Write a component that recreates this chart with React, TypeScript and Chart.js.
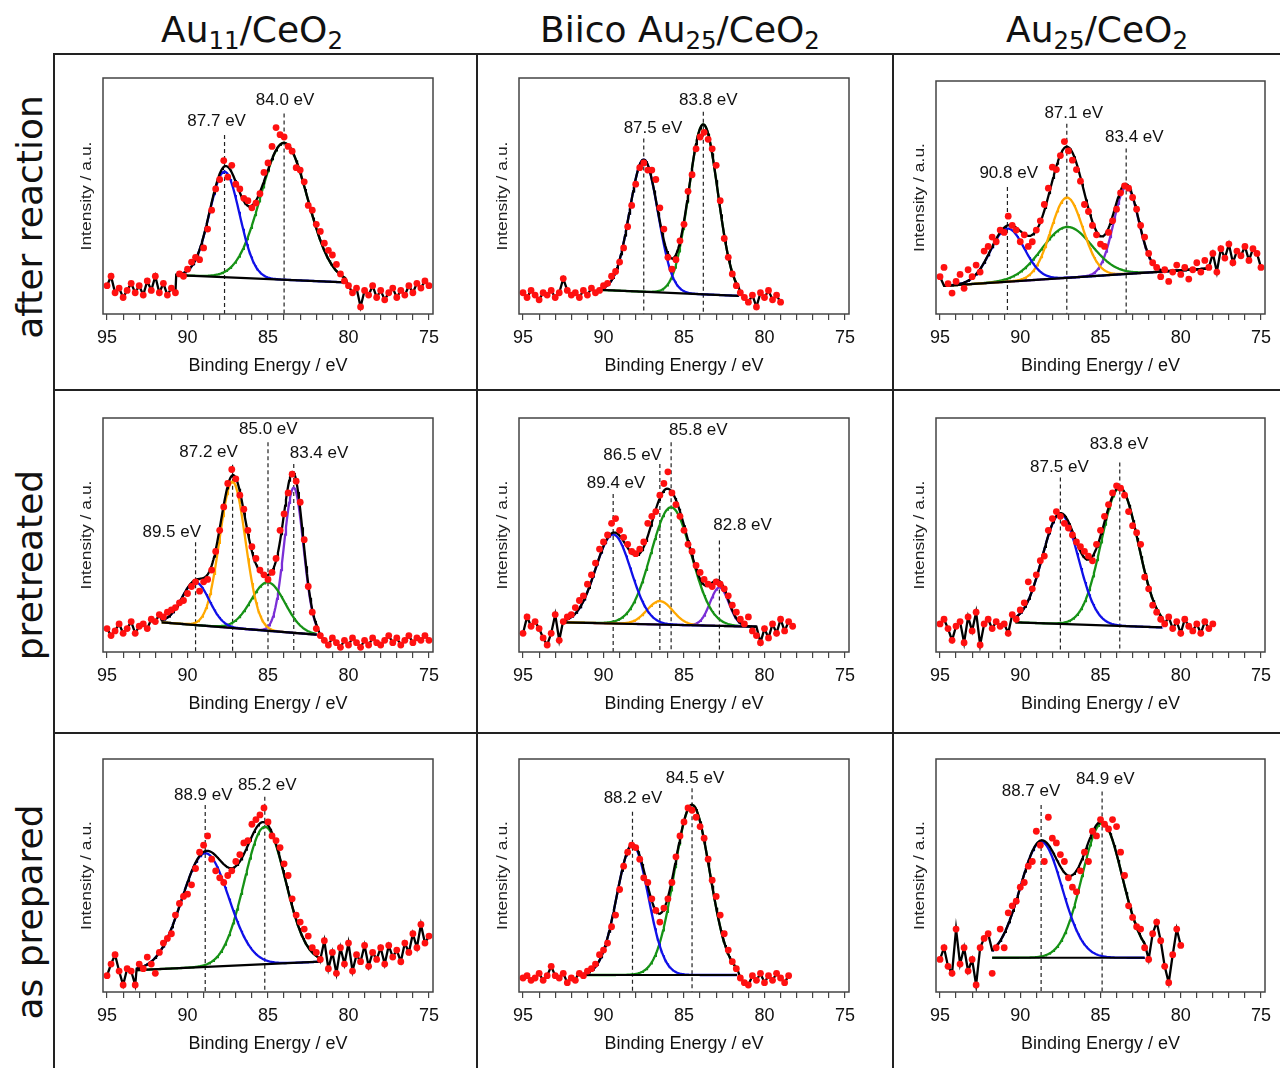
import React, { useEffect, useRef } from 'react';
import { Chart, registerables } from 'chart.js';

Chart.register(...registerables);

const PLOT_FONT = "'Liberation Sans', Arial, Helvetica, sans-serif";
const HEAD_FONT = "'DejaVu Sans', Verdana, sans-serif";

const BLUE = '#1010e8';
const GREEN = '#169216';
const ORANGE = '#ffa800';
const PURPLE = '#7a2fd6';
const RED = '#ff1010';

const X_MIN = 74.75;
const X_MAX = 95.25;
const X_TICK_LABELS = [95, 90, 85, 80, 75];
const E_START = 95;
const E_STEP = 0.25;

const COLUMN_TITLES = [
  ['Au', '11', '/CeO', '2'],
  ['Biico Au', '25', '/CeO', '2'],
  ['Au', '25', '/CeO', '2'],
];
const ROW_TITLES = ['after reaction', 'pretreated', 'as prepared'];

// ---------- Au11/CeO2, after reaction ----------
const P1_Y = [12, 16, 9, 11, 7, 10, 13, 9, 12, 8, 14, 10, 16, 9, 13, 8, 11, 9,
  17, 16, 19, 22, 24, 23, 28, 36, 44, 53, 57, 65, 58, 63, 55, 53, 49, 48, 45, 47, 51, 60, 64, 71, 79, 76, 75, 71, 69, 62, 61, 56, 46, 44, 38, 35, 30, 27, 25, 21, 17, 14,
  12, 9, 11, 3, 10, 8, 12, 7, 10, 6, 9, 11, 7, 10, 8, 12, 9, 13, 11, 14, 12];
const P1_BASE = [90.7, 16.5, 80.2, 13.4];
const P1_CENTERS = [87.7, 84.0];
const P1_HEIGHTS = [44.7, 58];
const P1_SIGMAS = [0.93, 1.45];
const P1_MARKS = [87.7, 84.0];

// ---------- Biico Au25/CeO2, after reaction ----------
const P2_Y = [9, 7, 10, 8, 6, 9, 8, 10, 7, 9, 15, 10, 8, 9, 7, 10, 8, 11, 9, 10,
  12, 13, 16, 18, 22, 28, 37, 46, 55, 62, 64, 61, 61, 57, 45, 36, 24, 19, 23, 31, 38, 52, 59, 70, 75, 77, 74, 70, 63, 48, 32, 24, 17, 12, 9,
  7, 5, 8, 3, 9, 7, 10, 6, 8, 5];
const P2_BASE = [90.16, 10.2, 81.6, 7.7];
const P2_CENTERS = [87.5, 83.8];
const P2_HEIGHTS = [56, 72];
const P2_SIGMAS = [0.88, 0.9];
const P2_MARKS = [87.5, 83.8];

// ---------- Au25/CeO2, after reaction ----------
const P3_Y = [16, 20, 13, 9, 14, 17, 11, 19, 16, 21, 18, 27, 29, 33, 31, 36, 35, 42, 38, 36,
  31, 34, 29, 31, 36, 40, 47, 54, 63, 62, 68, 74, 70, 66, 62, 57, 47, 44, 38, 34,
  30, 29, 35, 40, 45, 52, 55, 54, 50, 45, 38, 33, 26, 22, 20, 16, 19, 14, 18, 21,
  17, 20, 15, 19, 22, 18, 23, 20, 26, 18, 28, 24, 30, 22, 27, 25, 29, 23, 28, 26, 20];
const P3_BASE = [94.75, 12.1, 78.3, 19.5];
const P3_CENTERS = [90.8, 87.1, 87.1, 83.4];
const P3_HEIGHTS = [22.8, 34.4, 21.8, 37.3];
const P3_SIGMAS = [1.05, 1.0, 1.55, 0.775];
const P3_MARKS = [90.8, 87.1, 83.4];

// ---------- Au11/CeO2, pretreated ----------
const P4_Y = [10, 7, 9, 12, 8, 10, 13, 8, 11, 12, 10, 14, 13, 16, 15,
  17, 18, 19, 21, 22, 25, 28, 30, 26, 30, 31, 35, 43, 52, 62, 72, 78, 74, 67, 61, 52, 45, 40, 35, 33, 31, 34, 40, 52, 59, 68, 76, 73, 64, 48, 28, 17, 10,
  7, 5, 3, 6, 4, 2, 5, 3, 6, 4, 2, 5, 3, 6, 4, 3, 5, 7, 4, 6, 3, 5, 7, 4, 6, 5, 7, 5];
const P4_BASE = [91.6, 12.7, 81.98, 7.4];
const P4_CENTERS = [89.5, 87.2, 85.0, 83.4];
const P4_HEIGHTS = [18.3, 62.5, 20.7, 62];
const P4_SIGMAS = [0.85, 0.8, 1.05, 0.6];
const P4_MARKS = [89.5, 87.2, 85.0, 83.4];

// ---------- Biico Au25/CeO2, pretreated ----------
const P5_Y = [8, 15, 11, 13, 10, 6, 3, 8, 16, 5, 13,
  15, 16, 19, 22, 24, 29, 33, 38, 44, 47, 50, 55, 57, 52, 49, 46, 43, 42, 44, 47, 55, 58, 60, 67, 72, 77, 68, 63, 58, 52,
  46, 43, 37, 34, 31, 29, 28, 30, 29, 27, 24, 20, 17, 14, 12, 15, 9, 7, 4, 10, 6, 12, 8, 14, 9, 13, 11];
const P5_BASE = [92.5, 12.7, 80.5, 10.8];
const P5_CENTERS = [89.4, 86.5, 85.8, 82.8];
const P5_HEIGHTS = [38, 10, 50.2, 16.4];
const P5_SIGMAS = [1.1, 0.8, 1.25, 0.58];
const P5_MARKS = [89.4, 86.5, 85.8, 82.8];

// ---------- Au25/CeO2, pretreated ----------
const P6_Y = [12, 14, 10, 5, 11, 13, 4, 15, 9, 17, 3, 12, 14, 10, 13, 11, 12, 8, 16,
  14, 18, 21, 30, 27, 33, 39, 41, 52, 57, 60, 58, 55, 53, 50, 47, 45, 43, 41, 39, 46, 52, 58, 63, 68, 71, 70, 67, 60, 54, 51, 46, 32, 27, 20, 17, 14,
  12, 15, 10, 13, 8, 14, 11, 9, 12, 8, 13, 10, 12];
const P6_BASE = [90.3, 12.7, 81.17, 10.5];
const P6_CENTERS = [87.5, 83.8];
const P6_HEIGHTS = [47, 59];
const P6_SIGMAS = [1.12, 1.15];
const P6_MARKS = [87.5, 83.8];

// ---------- Au11/CeO2, as prepared ----------
const P7_Y = [7, 12, 16, 9, 3, 10, 9, 3,
  12, 10, 15, 12, 8, 17, 21, 23, 25, 33, 38, 41, 42, 46, 53, 60, 63, 67, 57, 52, 49, 47, 50, 52, 56, 59, 64, 65, 72, 74, 76, 79, 73, 67, 65, 62, 55, 50, 40, 33, 30, 27, 24, 19, 17, 14,
  22, 10, 17, 8, 19, 12, 21, 9, 16, 13, 20, 11, 17, 14, 19, 12, 20, 15, 18, 13, 21, 17, 25, 19, 29, 21, 24];
const P7_BASE = [93.16, 9.4, 81.77, 13.0];
const P7_CENTERS = [88.9, 85.2];
const P7_HEIGHTS = [48.8, 59];
const P7_SIGMAS = [1.45, 1.28];
const P7_MARKS = [88.9, 85.2];

// ---------- Biico Au25/CeO2, as prepared ----------
const P8_Y = [6, 7, 5, 6, 8, 5, 7, 11, 7, 6, 8, 4, 6, 5,
  8, 7, 9, 10, 12, 16, 18, 21, 28, 33, 44, 54, 60, 63, 62, 57, 49, 47, 40, 35, 30, 36, 40, 47, 58, 67, 73, 79, 78, 75, 71, 66, 57, 48, 41, 33, 25, 18, 13, 10,
  6, 4, 3, 7, 5, 8, 4, 7, 5, 8, 6, 4, 7];
const P8_BASE = [91.6, 7.3, 81.7, 7.3];
const P8_CENTERS = [88.2, 84.5];
const P8_HEIGHTS = [55.8, 73];
const P8_SIGMAS = [0.98, 1.1];
const P8_MARKS = [88.2, 84.5];

// ---------- Au25/CeO2, as prepared ----------
const P9_Y = [14, 19, 11, 8, 27, 12, 19, 9, 14, 3, 19, 23, 25,
  8, 19, 27, 19, 34, 37, 39, 45, 47, 54, 56, 69, 63, 56, 75, 66, 64, 59, 56, 49, 45, 43, 52, 60, 56, 69, 67, 74, 72, 70, 74, 71, 60, 50, 37, 32, 28, 27, 19,
  14, 25, 30, 22, 11, 4, 16, 27, 20];
const P9_BASE = [91.75, 14.7, 82.25, 14.7];
const P9_CENTERS = [88.7, 84.9];
const P9_HEIGHTS = [49.8, 57.7];
const P9_SIGMAS = [1.3, 1.25];
const P9_MARKS = [88.7, 84.9];

// layout / style for each panel (box in page pixels, annotation positions in data units)
const PANELS = [
  { y: P1_Y, base: P1_BASE, centers: P1_CENTERS, heights: P1_HEIGHTS, sigmas: P1_SIGMAS, marks: P1_MARKS,
    box: [103, 78, 433, 314], colors: [BLUE, GREEN], markTops: [75.8, 85], labelX: [88.19, 83.94], labelY: [81.5, 90.7] },
  { y: P2_Y, base: P2_BASE, centers: P2_CENTERS, heights: P2_HEIGHTS, sigmas: P2_SIGMAS, marks: P2_MARKS,
    box: [519, 78, 849, 314], colors: [BLUE, GREEN], markTops: [74.4, 85.7], labelX: [86.93, 83.49], labelY: [78.7, 90.7] },
  { y: P3_Y, base: P3_BASE, centers: P3_CENTERS, heights: P3_HEIGHTS, sigmas: P3_SIGMAS, marks: P3_MARKS,
    box: [936, 81, 1265, 314], colors: [BLUE, ORANGE, GREEN, PURPLE], markTops: [54.5, 81.7, 71], labelX: [90.72, 86.67, 82.89], labelY: [60.2, 86, 76] },
  { y: P4_Y, base: P4_BASE, centers: P4_CENTERS, heights: P4_HEIGHTS, sigmas: P4_SIGMAS, marks: P4_MARKS,
    box: [103, 418, 433, 652], colors: [BLUE, ORANGE, GREEN, PURPLE], markTops: [46.9, 80, 89.6, 80.3], labelX: [90.98, 88.69, 84.98, 81.83], labelY: [51.1, 85.3, 95.3, 84.9] },
  { y: P5_Y, base: P5_BASE, centers: P5_CENTERS, heights: P5_HEIGHTS, sigmas: P5_SIGMAS, marks: P5_MARKS,
    box: [519, 418, 849, 652], colors: [BLUE, ORANGE, GREEN, PURPLE], markTops: [67.5, 80.3, 89.6, 47.6], labelX: [89.22, 88.19, 84.11, 81.36], labelY: [72.1, 84.2, 94.6, 54.3] },
  { y: P6_Y, base: P6_BASE, centers: P6_CENTERS, heights: P6_HEIGHTS, sigmas: P6_SIGMAS, marks: P6_MARKS,
    box: [936, 418, 1265, 652], colors: [BLUE, GREEN], markTops: [74.6, 81], labelX: [87.56, 83.85], labelY: [78.9, 88.9] },
  { y: P7_Y, base: P7_BASE, centers: P7_CENTERS, heights: P7_HEIGHTS, sigmas: P7_SIGMAS, marks: P7_MARKS,
    box: [103, 759, 433, 992], colors: [BLUE, GREEN], markTops: [80.3, 83.8], labelX: [89.02, 85.04], labelY: [84.5, 88.8] },
  { y: P8_Y, base: P8_BASE, centers: P8_CENTERS, heights: P8_HEIGHTS, sigmas: P8_SIGMAS, marks: P8_MARKS,
    box: [519, 759, 849, 992], colors: [BLUE, GREEN], markTops: [77.4, 87.4], labelX: [88.17, 84.32], labelY: [83.1, 91.7] },
  { y: P9_Y, base: P9_BASE, centers: P9_CENTERS, heights: P9_HEIGHTS, sigmas: P9_SIGMAS, marks: P9_MARKS,
    box: [936, 759, 1265, 992], colors: [BLUE, GREEN], markTops: [80.3, 86], labelX: [89.33, 84.7], labelY: [86, 91.4] },
];

const PAD_L = 45;
const PAD_R = 15;
const PAD_T = 10;
const AXIS_H = 63;

function Spectrum({ spec }: { spec: any }) {
  const ref = useRef<HTMLCanvasElement | null>(null);
  const [L, T, R, B] = spec.box;
  const w = R - L + PAD_L + PAD_R;
  const h = B - T + PAD_T + AXIS_H;

  useEffect(() => {
    const canvas = ref.current;
    if (!canvas) return;
    const [bx1, by1, bx2, by2] = spec.base;
    const baseAt = (e: number) => by1 + ((e - bx1) * (by2 - by1)) / (bx2 - bx1);
    const peak = (e: number, k: number) =>
      spec.heights[k] * Math.exp(-((e - spec.centers[k]) ** 2) / (2 * spec.sigmas[k] ** 2));

    const pts = spec.y.map((v: number, i: number) => ({ x: E_START - i * E_STEP, y: v }));
    const n = Math.round((bx1 - bx2) / 0.05);
    const grid: number[] = [];
    for (let j = 0; j <= n; j++) grid.push(bx1 - (j * (bx1 - bx2)) / n);
    const envelope = grid.map((e) => ({
      x: e,
      y: baseAt(e) + spec.centers.reduce((s: number, _c: number, k: number) => s + peak(e, k), 0),
    }));
    const black = [
      ...pts.filter((q: any) => q.x > bx1 + 1e-6),
      ...envelope,
      ...pts.filter((q: any) => q.x < bx2 - 1e-6),
    ];

    const datasets: any[] = [];
    datasets.push({ data: pts, showLine: false, pointRadius: 3.4, pointBackgroundColor: RED, pointBorderColor: RED, pointBorderWidth: 0 });
    datasets.push({ data: black, borderColor: '#000', borderWidth: 2.3, pointRadius: 0 });
    datasets.push({ data: [{ x: bx1, y: by1 }, { x: bx2, y: by2 }], borderColor: '#000', borderWidth: 2.2, pointRadius: 0 });
    spec.centers.forEach((_c: number, k: number) => {
      datasets.push({
        data: grid.map((e) => ({ x: e, y: baseAt(e) + peak(e, k) })),
        borderColor: spec.colors[k],
        borderWidth: 2.3,
        pointRadius: 0,
      });
    });
    spec.marks.forEach((m: number, i: number) => {
      datasets.push({
        data: [{ x: m, y: spec.markTops[i] }, { x: m, y: 0 }],
        borderColor: '#222',
        borderWidth: 1.2,
        borderDash: [4, 3],
        pointRadius: 0,
      });
    });

    const decor = {
      id: 'decor',
      afterDatasetsDraw(chart: any) {
        const { ctx, chartArea: a, scales } = chart;
        ctx.save();
        ctx.strokeStyle = '#444';
        ctx.lineWidth = 1.5;
        ctx.strokeRect(a.left, a.top, a.right - a.left, a.bottom - a.top);
        ctx.fillStyle = '#111';
        ctx.font = `17px ${PLOT_FONT}`;
        ctx.textAlign = 'center';
        ctx.textBaseline = 'middle';
        spec.marks.forEach((m: number, i: number) => {
          ctx.fillText(
            `${m.toFixed(1)} eV`,
            scales.x.getPixelForValue(spec.labelX[i]),
            scales.y.getPixelForValue(spec.labelY[i])
          );
        });
        ctx.translate(a.left - 16, (a.top + a.bottom) / 2);
        ctx.rotate(-Math.PI / 2);
        ctx.scale(1.25, 1);
        ctx.font = `14px ${PLOT_FONT}`;
        ctx.fillStyle = '#222';
        ctx.fillText('Intensity / a.u.', 0, 0);
        ctx.restore();
      },
    };

    const chart = new Chart(canvas, {
      type: 'line',
      data: { datasets },
      options: {
        animation: false,
        responsive: false,
        devicePixelRatio: 1,
        layout: { padding: { left: PAD_L, right: PAD_R, top: PAD_T, bottom: 0 } },
        plugins: { legend: { display: false }, tooltip: { enabled: false } },
        scales: {
          x: {
            type: 'linear',
            reverse: true,
            min: X_MIN,
            max: X_MAX,
            afterFit: (s: any) => {
              s.height = AXIS_H;
            },
            border: { display: false },
            grid: { drawOnChartArea: false, drawTicks: true, tickLength: 6, color: '#444', lineWidth: 1.2 },
            ticks: {
              stepSize: 1,
              autoSkip: false,
              maxRotation: 0,
              minRotation: 0,
              includeBounds: false,
              padding: 7,
              color: '#111',
              font: { family: PLOT_FONT, size: 18 },
              callback: (v: any) => (X_TICK_LABELS.includes(Number(v)) ? String(v) : ''),
            },
            title: {
              display: true,
              text: 'Binding Energy / eV',
              color: '#111',
              font: { family: PLOT_FONT, size: 18 },
              padding: 0,
            },
          },
          y: { type: 'linear', display: false, min: 0, max: 100 },
        },
      } as any,
      plugins: [decor],
    });
    return () => chart.destroy();
  }, [spec]);

  return (
    <canvas
      ref={ref}
      width={w}
      height={h}
      style={{ position: 'absolute', left: L - PAD_L, top: T - PAD_T, width: w, height: h }}
    />
  );
}

const SUB: any = { fontSize: '0.68em', verticalAlign: '-0.28em', lineHeight: 0 };
const COL_CENTERS = [252, 680, 1097];
const ROW_CENTERS = [217, 565, 912];

export default function App() {
  const line = (l: number, t: number, w: number, h: number, key: string) => (
    <div key={key} style={{ position: 'absolute', left: l, top: t, width: w, height: h, background: '#222' }} />
  );
  return (
    <div style={{ position: 'absolute', left: 0, top: 0, width: 1280, height: 1068, background: '#fff', overflow: 'hidden' }}>
      {line(53, 53, 1227, 2, 'h0')}
      {line(53, 389, 1227, 2, 'h1')}
      {line(53, 732, 1227, 2, 'h2')}
      {line(53, 53, 2, 1015, 'v0')}
      {line(476, 53, 2, 1015, 'v1')}
      {line(892, 53, 2, 1015, 'v2')}
      {COLUMN_TITLES.map((t, i) => (
        <div
          key={'c' + i}
          style={{
            position: 'absolute',
            left: COL_CENTERS[i] - 250,
            width: 500,
            top: 10,
            textAlign: 'center',
            fontFamily: HEAD_FONT,
            fontSize: 36,
            lineHeight: '40px',
            color: '#111',
            whiteSpace: 'nowrap',
          }}
        >
          {t[0]}
          <sub style={SUB}>{t[1]}</sub>
          {t[2]}
          <sub style={SUB}>{t[3]}</sub>
        </div>
      ))}
      {ROW_TITLES.map((t, i) => (
        <div
          key={'r' + i}
          style={{
            position: 'absolute',
            left: 30 - 175,
            width: 350,
            top: ROW_CENTERS[i] - 20,
            height: 40,
            lineHeight: '40px',
            textAlign: 'center',
            fontFamily: HEAD_FONT,
            fontSize: 36,
            color: '#111',
            whiteSpace: 'nowrap',
            transform: 'rotate(-90deg)',
          }}
        >
          {t}
        </div>
      ))}
      {PANELS.map((p, i) => (
        <Spectrum key={i} spec={p} />
      ))}
    </div>
  );
}
